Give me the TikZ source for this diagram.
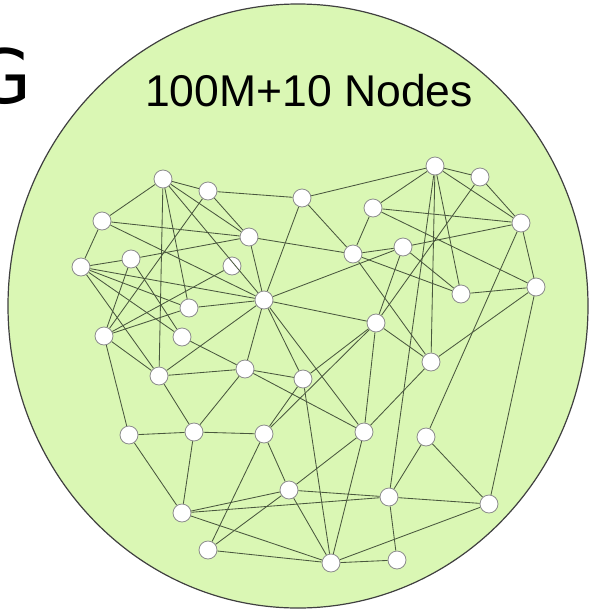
\documentclass[tikz,border=0pt]{standalone}
\usepackage{fontspec}
\newfontfamily\labelfont{Liberation Sans}
\newfontfamily\bigfont{DejaVu Sans}
\definecolor{disc}{RGB}{218,247,180}
\definecolor{edgecol}{RGB}{74,88,62}
\definecolor{ringcol}{RGB}{140,140,140}
\pgfdeclarelayer{bg}
\pgfsetlayers{bg,main}
\begin{document}
\begin{tikzpicture}[x=1pt,y=-1pt,
  vertex/.style={circle,draw=ringcol,fill=white,line width=0.8pt,minimum size=18pt,inner sep=0pt},
  link/.style={draw=edgecol,line width=0.85pt}]
\useasboundingbox (0,0) rectangle (590,611);

% vertices
\foreach \n/\x/\y in {
  A/163/179, B/208/191, C/302/198, D/102/221, E/249/237, F/81/267,
  Gn/131/259, H/232/266, I/189/308, J/264/300, K/104/336, L/182/337,
  M/159/376, N/245/369, O/303/379,
  P/435/166, Q/480/177, R/373/208, S/521/223, T/403/247, U/353/254,
  V/536/287, W/461/294, X/376/323, Y/431/362,
  Z1/129/435, Z2/194/432, Z3/264/434, Z4/364/432, Z5/426/437,
  a1/289/490, a2/389/497, a3/489/504, a4/182/513, a5/208/550,
  a6/331/563, a7/397/560}
  \node[vertex] (\n) at (\x,\y) {};

% disc and edges underneath the vertices
\begin{pgfonlayer}{bg}
\draw[fill=disc,draw=black!75,line width=1.2pt] (298,306) ellipse [x radius=290pt, y radius=302pt];
\foreach \u/\v in {
  A/B, A/D, A/E, A/M, A/I, B/C, B/E, B/K, D/F, D/E, D/J,
  F/Gn, F/I, F/J, F/L, F/M, Gn/E, Gn/K, Gn/L,
  K/H, K/I, K/M, K/Z1, I/J, L/N, M/J, M/N, M/Z2,
  N/J, N/O, N/Z2, N/Z4, E/J, E/U, C/J, C/U, C/P,
  J/T, J/X, J/O, J/Z4,
  P/Q, P/R, P/S, P/W, P/Y, P/a2, Q/S, Q/X, R/S, R/V, R/U,
  S/T, S/V, S/Z5, T/U, T/W, T/X, U/W, U/Y, V/W, V/Y, V/a3,
  X/Y, X/O, X/Z4, X/Z3, Y/Z4,
  Z1/Z2, Z1/a4, Z2/Z3, Z2/a4, Z3/O, Z3/a1, Z3/a5, O/a6,
  Z4/a1, Z4/a6, Z5/a2, Z5/a3, a1/a2, a1/a4, a2/a4, a1/a5,
  a1/a6, a2/a3, a2/a7, a4/a6, a5/a6, a6/a7, a6/a3}
  \draw[link] (\u) -- (\v);
\end{pgfonlayer}

% one edge runs across a vertex
\draw[link] (A) -- (J);

% captions
\node[font=\labelfont\fontsize{44.5}{50}\selectfont, anchor=base, inner sep=0pt] (title) at (309,106) {100M+10 Nodes};
\node[font=\bigfont\fontsize{75}{80}\selectfont, anchor=base east, inner sep=0pt] (glyph) at (32,103) {G};
\end{tikzpicture}
\end{document}
